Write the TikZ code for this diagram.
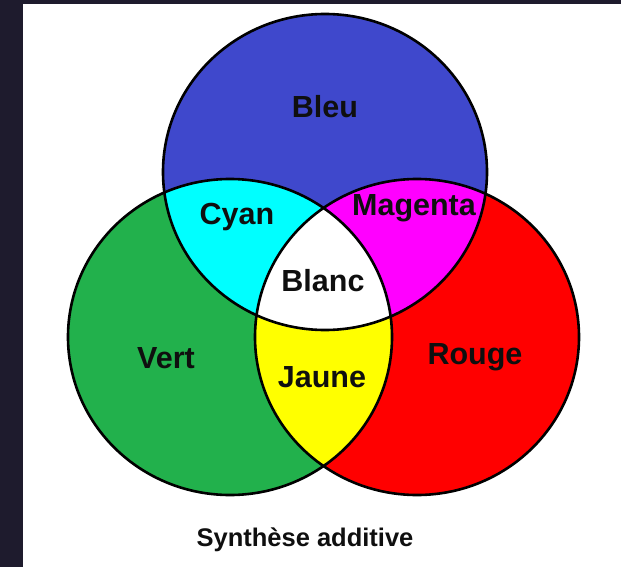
\documentclass[tikz,border=0pt]{standalone}
\usepackage{fontspec}
\setmainfont{Liberation Sans}
\definecolor{darkbg}{RGB}{30,27,45}
\definecolor{cbleu}{RGB}{63,72,204}
\definecolor{cvert}{RGB}{34,177,76}
\definecolor{crouge}{RGB}{255,0,0}
\definecolor{ccyan}{RGB}{0,255,255}
\definecolor{cmagenta}{RGB}{255,0,255}
\definecolor{cjaune}{RGB}{255,255,0}
\definecolor{ctext}{RGB}{15,15,15}
\begin{document}
\begin{tikzpicture}[x=1pt,y=-1pt,
  lab/.style={font=\fontsize{30.5}{32}\selectfont\bfseries, text=ctext, inner sep=0pt},
  titlestyle/.style={font=\fontsize{25.5}{27}\selectfont\bfseries, text=ctext, inner sep=0pt},
  ring/.style={draw=black, line width=2.6pt},
  oval/.style={x radius=162pt, y radius=158pt}]
\useasboundingbox (0,0) rectangle (621,567);
\fill[darkbg] (0,0) rectangle (621,567);
\fill[white] (23,4) rectangle (621,567);
\coordinate (B) at (325,172);
\coordinate (G) at (230,337);
\coordinate (R) at (417,337);
% base circles
\fill[cbleu] (B) ellipse[oval];
\fill[cvert] (G) ellipse[oval];
\fill[crouge] (R) ellipse[oval];
% pairwise intersections
\begin{scope}
  \clip (G) ellipse[oval];
  \fill[cjaune] (R) ellipse[oval];
\end{scope}
\begin{scope}
  \clip (B) ellipse[oval];
  \fill[ccyan] (G) ellipse[oval];
  \fill[cmagenta] (R) ellipse[oval];
  \clip (G) ellipse[oval];
  \fill[white] (R) ellipse[oval];
\end{scope}
% outlines
\draw[ring] (B) ellipse[oval];
\draw[ring] (G) ellipse[oval];
\draw[ring] (R) ellipse[oval];
% labels
\node[lab] (bleu) at (325,107) {Bleu};
\node[lab] (cyan) at (237,217) {Cyan};
\node[lab] (magenta) at (414,208) {Magenta};
\node[lab] (blanc) at (323,281) {Blanc};
\node[lab] (vert) at (166,358) {Vert};
\node[lab] (jaune) at (322,377) {Jaune};
\node[lab] (rouge) at (475,357) {Rouge};
\node[titlestyle] (titre) at (305,540) {Synthèse additive};
\end{tikzpicture}
\end{document}
